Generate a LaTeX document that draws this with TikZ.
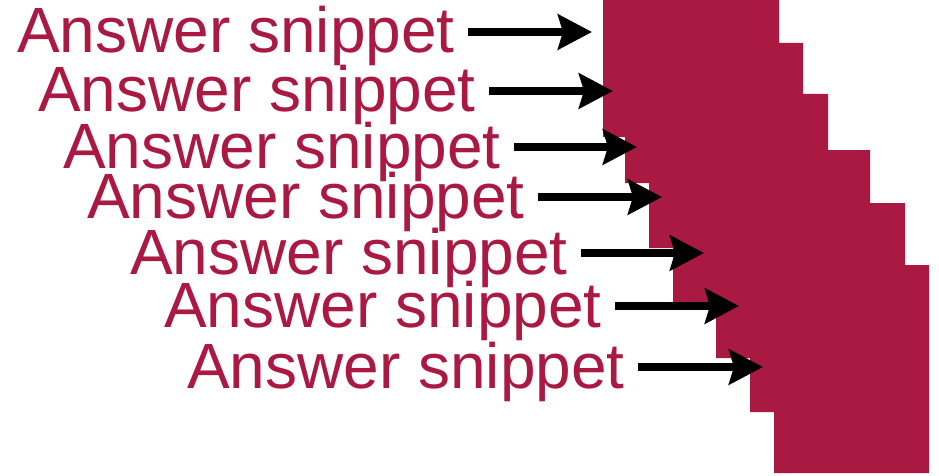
\documentclass[tikz,border=0pt]{standalone}
\usepackage{fontspec}
\setmainfont{Liberation Sans}
\usetikzlibrary{arrows.meta}
\definecolor{snipred}{RGB}{170,25,66}
\begin{document}
\begin{tikzpicture}[x=1pt,y=-1pt,every node/.style={font=\fontsize{64}{64}\selectfont,text=snipred,inner sep=0pt,anchor=base west},
  pointer/.style={line width=8pt,-{Stealth[length=34pt,width=35pt,inset=5pt]}}]
\useasboundingbox (0,0) rectangle (939,476);
\fill[snipred] (603,0) -- (779,0) |- (803,43) |- (828,94) |- (870,150) |- (905,203) |- (929,265) -- (929,473) -| (774,412) -| (750,358) -| (716,302) -| (673,248) -| (649,183) -| (625,137) -| (603,0) -- cycle;
\foreach \i/\tx/\ty/\ax in {1/17/53/592,2/38/112/613,3/63/168/637,4/87/218/662,5/130/274/704,6/164/327/739,7/187/388/763}{
  \node (snippet\i) at (\tx,\ty) {Answer snippet}; \coordinate (tip\i) at (\ax,\ty-21);
  \draw[pointer] ([xshift=13.5pt]snippet\i.east |- tip\i) -- (tip\i);}
\end{tikzpicture}
\end{document}
